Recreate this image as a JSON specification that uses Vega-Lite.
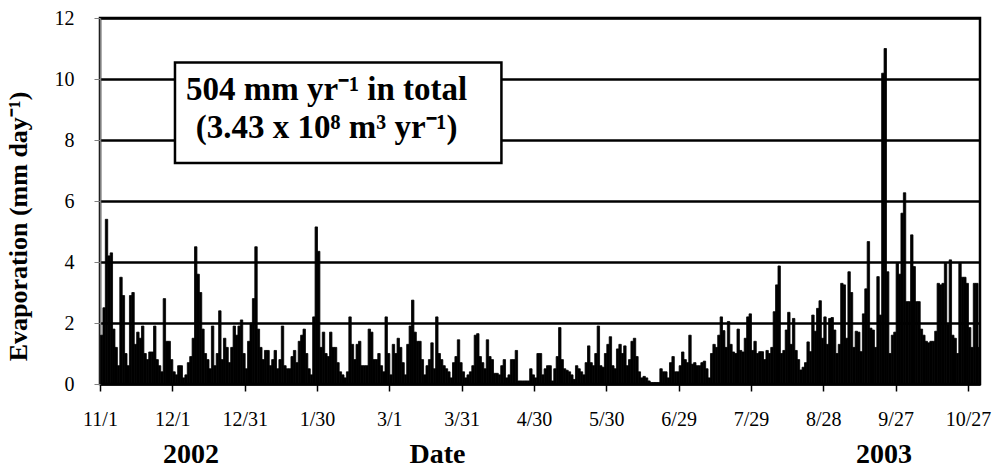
{
  "$schema": "https://vega.github.io/schema/vega-lite/v6.json",
  "width": 880,
  "height": 366,
  "autosize": {"type": "none"},
  "padding": {"left": 100, "top": 18, "right": 20, "bottom": 85},
  "background": "white",
  "config": {
    "font": "Liberation Serif",
    "view": {"stroke": "black", "strokeWidth": 2.5}
  },
  "datasets": {
    "daily": [
      {"date":"2002-11-01","evap":1.6},{"date":"2002-11-02","evap":2.5},{"date":"2002-11-03","evap":5.4},{"date":"2002-11-04","evap":4.2},{"date":"2002-11-05","evap":4.3},{"date":"2002-11-06","evap":1.8},{"date":"2002-11-07","evap":1.2},{"date":"2002-11-08","evap":0.6},{"date":"2002-11-09","evap":3.5},{"date":"2002-11-10","evap":2.9},
      {"date":"2002-11-11","evap":1.0},{"date":"2002-11-12","evap":0.6},{"date":"2002-11-13","evap":2.9},{"date":"2002-11-14","evap":3.0},{"date":"2002-11-15","evap":1.3},{"date":"2002-11-16","evap":1.7},{"date":"2002-11-17","evap":1.5},{"date":"2002-11-18","evap":1.9},{"date":"2002-11-19","evap":1.0},{"date":"2002-11-20","evap":0.8},
      {"date":"2002-11-21","evap":1.05},{"date":"2002-11-22","evap":1.05},{"date":"2002-11-23","evap":1.9},{"date":"2002-11-24","evap":0.8},{"date":"2002-11-25","evap":0.6},{"date":"2002-11-26","evap":0.4},{"date":"2002-11-27","evap":2.8},{"date":"2002-11-28","evap":1.4},{"date":"2002-11-29","evap":1.4},{"date":"2002-11-30","evap":0.8},
      {"date":"2002-12-01","evap":0.4},{"date":"2002-12-02","evap":0.3},{"date":"2002-12-03","evap":0.6},{"date":"2002-12-04","evap":0.6},{"date":"2002-12-05","evap":0.2},{"date":"2002-12-06","evap":0.3},{"date":"2002-12-07","evap":0.7},{"date":"2002-12-08","evap":0.9},{"date":"2002-12-09","evap":1.5},{"date":"2002-12-10","evap":4.5},
      {"date":"2002-12-11","evap":3.6},{"date":"2002-12-12","evap":3.0},{"date":"2002-12-13","evap":1.8},{"date":"2002-12-14","evap":1.0},{"date":"2002-12-15","evap":0.8},{"date":"2002-12-16","evap":0.5},{"date":"2002-12-17","evap":1.9},{"date":"2002-12-18","evap":0.6},{"date":"2002-12-19","evap":1.0},{"date":"2002-12-20","evap":2.4},
      {"date":"2002-12-21","evap":0.8},{"date":"2002-12-22","evap":1.5},{"date":"2002-12-23","evap":1.2},{"date":"2002-12-24","evap":0.7},{"date":"2002-12-25","evap":1.2},{"date":"2002-12-26","evap":1.9},{"date":"2002-12-27","evap":1.6},{"date":"2002-12-28","evap":1.9},{"date":"2002-12-29","evap":2.1},{"date":"2002-12-30","evap":1.0},{"date":"2002-12-31","evap":0.5},
      {"date":"2003-01-01","evap":1.4},{"date":"2003-01-02","evap":2.0},{"date":"2003-01-03","evap":2.8},{"date":"2003-01-04","evap":4.5},{"date":"2003-01-05","evap":1.8},{"date":"2003-01-06","evap":1.2},{"date":"2003-01-07","evap":0.8},{"date":"2003-01-08","evap":1.1},{"date":"2003-01-09","evap":1.1},{"date":"2003-01-10","evap":0.6},
      {"date":"2003-01-11","evap":0.8},{"date":"2003-01-12","evap":1.1},{"date":"2003-01-13","evap":0.5},{"date":"2003-01-14","evap":0.8},{"date":"2003-01-15","evap":1.9},{"date":"2003-01-16","evap":0.6},{"date":"2003-01-17","evap":0.5},{"date":"2003-01-18","evap":0.5},{"date":"2003-01-19","evap":0.9},{"date":"2003-01-20","evap":1.1},
      {"date":"2003-01-21","evap":0.7},{"date":"2003-01-22","evap":1.4},{"date":"2003-01-23","evap":1.6},{"date":"2003-01-24","evap":1.8},{"date":"2003-01-25","evap":1.0},{"date":"2003-01-26","evap":0.5},{"date":"2003-01-27","evap":0.3},{"date":"2003-01-28","evap":2.2},{"date":"2003-01-29","evap":5.15},{"date":"2003-01-30","evap":4.35},{"date":"2003-01-31","evap":1.2},
      {"date":"2003-02-01","evap":1.7},{"date":"2003-02-02","evap":1.0},{"date":"2003-02-03","evap":0.9},{"date":"2003-02-04","evap":1.7},{"date":"2003-02-05","evap":1.2},{"date":"2003-02-06","evap":1.2},{"date":"2003-02-07","evap":0.7},{"date":"2003-02-08","evap":0.4},{"date":"2003-02-09","evap":0.3},{"date":"2003-02-10","evap":0.2},
      {"date":"2003-02-11","evap":0.4},{"date":"2003-02-12","evap":2.2},{"date":"2003-02-13","evap":1.3},{"date":"2003-02-14","evap":0.8},{"date":"2003-02-15","evap":1.3},{"date":"2003-02-16","evap":1.4},{"date":"2003-02-17","evap":0.6},{"date":"2003-02-18","evap":0.6},{"date":"2003-02-19","evap":0.6},{"date":"2003-02-20","evap":1.8},
      {"date":"2003-02-21","evap":1.7},{"date":"2003-02-22","evap":0.8},{"date":"2003-02-23","evap":0.8},{"date":"2003-02-24","evap":1.0},{"date":"2003-02-25","evap":0.6},{"date":"2003-02-26","evap":0.4},{"date":"2003-02-27","evap":2.2},{"date":"2003-02-28","evap":1.0},
      {"date":"2003-03-01","evap":0.3},{"date":"2003-03-02","evap":1.3},{"date":"2003-03-03","evap":1.0},{"date":"2003-03-04","evap":1.5},{"date":"2003-03-05","evap":1.2},{"date":"2003-03-06","evap":0.7},{"date":"2003-03-07","evap":0.3},{"date":"2003-03-08","evap":1.3},{"date":"2003-03-09","evap":1.9},{"date":"2003-03-10","evap":2.75},
      {"date":"2003-03-11","evap":1.7},{"date":"2003-03-12","evap":1.4},{"date":"2003-03-13","evap":1.4},{"date":"2003-03-14","evap":0.8},{"date":"2003-03-15","evap":0.3},{"date":"2003-03-16","evap":0.6},{"date":"2003-03-17","evap":0.8},{"date":"2003-03-18","evap":1.35},{"date":"2003-03-19","evap":0.5},{"date":"2003-03-20","evap":2.2},
      {"date":"2003-03-21","evap":1.0},{"date":"2003-03-22","evap":0.8},{"date":"2003-03-23","evap":0.6},{"date":"2003-03-24","evap":0.5},{"date":"2003-03-25","evap":0.4},{"date":"2003-03-26","evap":0.2},{"date":"2003-03-27","evap":0.7},{"date":"2003-03-28","evap":0.9},{"date":"2003-03-29","evap":1.45},{"date":"2003-03-30","evap":0.7},{"date":"2003-03-31","evap":0.4},
      {"date":"2003-04-01","evap":0.2},{"date":"2003-04-02","evap":0.3},{"date":"2003-04-03","evap":0.4},{"date":"2003-04-04","evap":0.6},{"date":"2003-04-05","evap":1.6},{"date":"2003-04-06","evap":1.65},{"date":"2003-04-07","evap":0.9},{"date":"2003-04-08","evap":0.7},{"date":"2003-04-09","evap":0.5},{"date":"2003-04-10","evap":1.45},
      {"date":"2003-04-11","evap":0.9},{"date":"2003-04-12","evap":0.8},{"date":"2003-04-13","evap":0.35},{"date":"2003-04-14","evap":0.35},{"date":"2003-04-15","evap":0.3},{"date":"2003-04-16","evap":0.6},{"date":"2003-04-17","evap":0.8},{"date":"2003-04-18","evap":0.2},{"date":"2003-04-19","evap":0.3},{"date":"2003-04-20","evap":0.8},
      {"date":"2003-04-21","evap":0.8},{"date":"2003-04-22","evap":1.1},{"date":"2003-04-23","evap":0.1},{"date":"2003-04-24","evap":0.1},{"date":"2003-04-25","evap":0.1},{"date":"2003-04-26","evap":0.1},{"date":"2003-04-27","evap":0.1},{"date":"2003-04-28","evap":0.5},{"date":"2003-04-29","evap":0.3},{"date":"2003-04-30","evap":0.2},
      {"date":"2003-05-01","evap":1.0},{"date":"2003-05-02","evap":1.0},{"date":"2003-05-03","evap":0.3},{"date":"2003-05-04","evap":0.5},{"date":"2003-05-05","evap":0.6},{"date":"2003-05-06","evap":0.6},{"date":"2003-05-07","evap":0.1},{"date":"2003-05-08","evap":0.5},{"date":"2003-05-09","evap":0.9},{"date":"2003-05-10","evap":1.85},
      {"date":"2003-05-11","evap":0.8},{"date":"2003-05-12","evap":0.5},{"date":"2003-05-13","evap":0.45},{"date":"2003-05-14","evap":0.4},{"date":"2003-05-15","evap":0.3},{"date":"2003-05-16","evap":0.15},{"date":"2003-05-17","evap":0.6},{"date":"2003-05-18","evap":0.5},{"date":"2003-05-19","evap":0.4},{"date":"2003-05-20","evap":0.3},
      {"date":"2003-05-21","evap":0.7},{"date":"2003-05-22","evap":1.25},{"date":"2003-05-23","evap":0.7},{"date":"2003-05-24","evap":0.6},{"date":"2003-05-25","evap":1.0},{"date":"2003-05-26","evap":1.9},{"date":"2003-05-27","evap":0.6},{"date":"2003-05-28","evap":0.55},{"date":"2003-05-29","evap":1.0},{"date":"2003-05-30","evap":1.3},{"date":"2003-05-31","evap":1.55},
      {"date":"2003-06-01","evap":0.6},{"date":"2003-06-02","evap":0.5},{"date":"2003-06-03","evap":1.15},{"date":"2003-06-04","evap":1.3},{"date":"2003-06-05","evap":1.0},{"date":"2003-06-06","evap":1.25},{"date":"2003-06-07","evap":0.6},{"date":"2003-06-08","evap":0.8},{"date":"2003-06-09","evap":1.4},{"date":"2003-06-10","evap":1.5},
      {"date":"2003-06-11","evap":0.9},{"date":"2003-06-12","evap":0.4},{"date":"2003-06-13","evap":0.2},{"date":"2003-06-14","evap":0.25},{"date":"2003-06-15","evap":0.2},{"date":"2003-06-16","evap":0.1},{"date":"2003-06-17","evap":0.05},{"date":"2003-06-18","evap":0.05},{"date":"2003-06-19","evap":0.05},{"date":"2003-06-20","evap":0.05},
      {"date":"2003-06-21","evap":0.5},{"date":"2003-06-22","evap":0.4},{"date":"2003-06-23","evap":0.4},{"date":"2003-06-24","evap":0.2},{"date":"2003-06-25","evap":0.7},{"date":"2003-06-26","evap":0.9},{"date":"2003-06-27","evap":0.4},{"date":"2003-06-28","evap":0.4},{"date":"2003-06-29","evap":0.6},{"date":"2003-06-30","evap":1.05},
      {"date":"2003-07-01","evap":0.8},{"date":"2003-07-02","evap":0.7},{"date":"2003-07-03","evap":1.6},{"date":"2003-07-04","evap":0.65},{"date":"2003-07-05","evap":0.7},{"date":"2003-07-06","evap":0.6},{"date":"2003-07-07","evap":0.6},{"date":"2003-07-08","evap":0.7},{"date":"2003-07-09","evap":0.75},{"date":"2003-07-10","evap":0.5},
      {"date":"2003-07-11","evap":0.2},{"date":"2003-07-12","evap":1.0},{"date":"2003-07-13","evap":1.3},{"date":"2003-07-14","evap":1.2},{"date":"2003-07-15","evap":1.6},{"date":"2003-07-16","evap":2.2},{"date":"2003-07-17","evap":1.75},{"date":"2003-07-18","evap":1.2},{"date":"2003-07-19","evap":2.05},{"date":"2003-07-20","evap":1.3},
      {"date":"2003-07-21","evap":1.05},{"date":"2003-07-22","evap":1.0},{"date":"2003-07-23","evap":1.8},{"date":"2003-07-24","evap":1.1},{"date":"2003-07-25","evap":1.05},{"date":"2003-07-26","evap":1.5},{"date":"2003-07-27","evap":2.2},{"date":"2003-07-28","evap":2.3},{"date":"2003-07-29","evap":1.1},{"date":"2003-07-30","evap":1.4},{"date":"2003-07-31","evap":1.0},
      {"date":"2003-08-01","evap":1.06},{"date":"2003-08-02","evap":1.06},{"date":"2003-08-03","evap":0.8},{"date":"2003-08-04","evap":1.1},{"date":"2003-08-05","evap":1.0},{"date":"2003-08-06","evap":1.2},{"date":"2003-08-07","evap":2.37},{"date":"2003-08-08","evap":3.25},{"date":"2003-08-09","evap":3.87},{"date":"2003-08-10","evap":1.0},
      {"date":"2003-08-11","evap":1.1},{"date":"2003-08-12","evap":1.77},{"date":"2003-08-13","evap":2.35},{"date":"2003-08-14","evap":1.3},{"date":"2003-08-15","evap":2.15},{"date":"2003-08-16","evap":1.1},{"date":"2003-08-17","evap":0.8},{"date":"2003-08-18","evap":0.46},{"date":"2003-08-19","evap":0.55},{"date":"2003-08-20","evap":0.7},
      {"date":"2003-08-21","evap":1.38},{"date":"2003-08-22","evap":1.06},{"date":"2003-08-23","evap":2.26},{"date":"2003-08-24","evap":1.73},{"date":"2003-08-25","evap":2.48},{"date":"2003-08-26","evap":2.73},{"date":"2003-08-27","evap":1.5},{"date":"2003-08-28","evap":2.2},{"date":"2003-08-29","evap":1.3},{"date":"2003-08-30","evap":2.15},{"date":"2003-08-31","evap":2.18},
      {"date":"2003-09-01","evap":1.77},{"date":"2003-09-02","evap":1.0},{"date":"2003-09-03","evap":1.3},{"date":"2003-09-04","evap":3.3},{"date":"2003-09-05","evap":3.25},{"date":"2003-09-06","evap":1.5},{"date":"2003-09-07","evap":3.68},{"date":"2003-09-08","evap":3.0},{"date":"2003-09-09","evap":1.2},{"date":"2003-09-10","evap":1.73},
      {"date":"2003-09-11","evap":1.7},{"date":"2003-09-12","evap":1.06},{"date":"2003-09-13","evap":2.3},{"date":"2003-09-14","evap":3.12},{"date":"2003-09-15","evap":4.67},{"date":"2003-09-16","evap":1.83},{"date":"2003-09-17","evap":1.77},{"date":"2003-09-18","evap":1.2},{"date":"2003-09-19","evap":3.52},{"date":"2003-09-20","evap":2.26},
      {"date":"2003-09-21","evap":10.19},{"date":"2003-09-22","evap":11.0},{"date":"2003-09-23","evap":3.68},{"date":"2003-09-24","evap":1.0},{"date":"2003-09-25","evap":1.6},{"date":"2003-09-26","evap":1.7},{"date":"2003-09-27","evap":3.96},{"date":"2003-09-28","evap":3.6},{"date":"2003-09-29","evap":5.6},{"date":"2003-09-30","evap":6.27},
      {"date":"2003-10-01","evap":2.7},{"date":"2003-10-02","evap":2.7},{"date":"2003-10-03","evap":4.89},{"date":"2003-10-04","evap":3.85},{"date":"2003-10-05","evap":2.7},{"date":"2003-10-06","evap":2.7},{"date":"2003-10-07","evap":1.8},{"date":"2003-10-08","evap":1.6},{"date":"2003-10-09","evap":1.4},{"date":"2003-10-10","evap":1.35},
      {"date":"2003-10-11","evap":1.4},{"date":"2003-10-12","evap":1.4},{"date":"2003-10-13","evap":1.73},{"date":"2003-10-14","evap":3.3},{"date":"2003-10-15","evap":3.25},{"date":"2003-10-16","evap":3.3},{"date":"2003-10-17","evap":3.96},{"date":"2003-10-18","evap":1.95},{"date":"2003-10-19","evap":4.07},{"date":"2003-10-20","evap":1.6},
      {"date":"2003-10-21","evap":1.5},{"date":"2003-10-22","evap":1.0},{"date":"2003-10-23","evap":3.96},{"date":"2003-10-24","evap":3.5},{"date":"2003-10-25","evap":3.5},{"date":"2003-10-26","evap":3.3},{"date":"2003-10-27","evap":1.85},{"date":"2003-10-28","evap":1.2},{"date":"2003-10-29","evap":3.3},{"date":"2003-10-30","evap":3.3},{"date":"2003-10-31","evap":1.2}
    ]
  },
  "layer": [
    {
      "data": {"name": "daily"},
      "mark": {"type": "bar", "color": "black", "stroke": "black", "strokeWidth": 0.8, "binSpacing": 0},
      "encoding": {
        "x": {
          "field": "date",
          "timeUnit": "utcyearmonthdate",
          "type": "temporal",
          "scale": {
            "type": "utc",
            "domain": [
              {"year": 2002, "month": 11, "date": 1, "utc": true},
              {"year": 2003, "month": 11, "date": 1, "utc": true}
            ]
          },
          "axis": {
            "title": null,
            "values": [
              {"year": 2002, "month": 11, "date": 1, "utc": true},
              {"year": 2002, "month": 12, "date": 1, "utc": true},
              {"year": 2002, "month": 12, "date": 31, "utc": true},
              {"year": 2003, "month": 1, "date": 30, "utc": true},
              {"year": 2003, "month": 3, "date": 1, "utc": true},
              {"year": 2003, "month": 3, "date": 31, "utc": true},
              {"year": 2003, "month": 4, "date": 30, "utc": true},
              {"year": 2003, "month": 5, "date": 30, "utc": true},
              {"year": 2003, "month": 6, "date": 29, "utc": true},
              {"year": 2003, "month": 7, "date": 29, "utc": true},
              {"year": 2003, "month": 8, "date": 28, "utc": true},
              {"year": 2003, "month": 9, "date": 27, "utc": true},
              {"year": 2003, "month": 10, "date": 27, "utc": true}
            ],
            "format": "%-m/%-d",
            "grid": false,
            "labelFont": "Liberation Serif",
            "labelFontSize": 20,
            "labelColor": "black",
            "labelPadding": 18,
            "labelOverlap": false,
            "labelFlush": false,
            "tickColor": "black",
            "tickSize": 7,
            "tickWidth": 1.5,
            "domainColor": "black",
            "domainWidth": 2
          }
        },
        "y": {
          "field": "evap",
          "type": "quantitative",
          "scale": {"domain": [0, 12], "nice": false},
          "axis": {
            "title": "Evaporation (mm day⁻¹)",
            "titleFont": "Liberation Serif",
            "titleFontSize": 26,
            "titleFontWeight": "bold",
            "titleColor": "black",
            "titleAngle": -90,
            "titleAlign": "center",
            "titleBaseline": "middle",
            "titleX": -82,
            "titleY": 208,
            "values": [0, 2, 4, 6, 8, 10, 12],
            "labelFont": "Liberation Serif",
            "labelFontSize": 20,
            "labelColor": "black",
            "labelPadding": 20,
            "tickSize": 6,
            "tickColor": "#808080",
            "domainColor": "#808080",
            "domainWidth": 1.5,
            "grid": true,
            "gridColor": "black",
            "gridWidth": 2.5,
            "gridOpacity": 1
          }
        }
      }
    },
    {
      "data": {"values": [{"start": "2002-12-02T02:24:00Z", "end": "2003-04-16T12:00:00Z", "top": 10.54, "bottom": 7.25}]},
      "mark": {"type": "rect", "fill": "white", "stroke": "black", "strokeWidth": 2.5},
      "encoding": {
        "x": {"field": "start", "type": "temporal"},
        "x2": {"field": "end"},
        "y": {"field": "top", "type": "quantitative"},
        "y2": {"field": "bottom"}
      }
    },
    {
      "data": {"values": [
        {"text": "504 mm yr⁻¹ in total", "at": "2003-02-03T00:00:00Z", "level": 9.32},
        {"text": "(3.43 x 10⁸ m³ yr⁻¹)", "at": "2003-02-03T00:00:00Z", "level": 8.07}
      ]},
      "mark": {"type": "text", "font": "Liberation Serif", "fontSize": 33, "fontWeight": "bold", "color": "black", "align": "center", "baseline": "alphabetic"},
      "encoding": {
        "x": {"field": "at", "type": "temporal"},
        "y": {"field": "level", "type": "quantitative"},
        "text": {"field": "text"}
      }
    },
    {
      "data": {"values": [
        {"text": "2002", "at": "2002-12-08T17:00:00Z", "level": -2.59},
        {"text": "Date", "at": "2003-03-21T00:00:00Z", "level": -2.59},
        {"text": "2003", "at": "2003-09-22T05:00:00Z", "level": -2.59}
      ]},
      "mark": {"type": "text", "font": "Liberation Serif", "fontSize": 28, "fontWeight": "bold", "color": "black", "align": "center", "baseline": "alphabetic"},
      "encoding": {
        "x": {"field": "at", "type": "temporal"},
        "y": {"field": "level", "type": "quantitative"},
        "text": {"field": "text"}
      }
    }
  ]
}
